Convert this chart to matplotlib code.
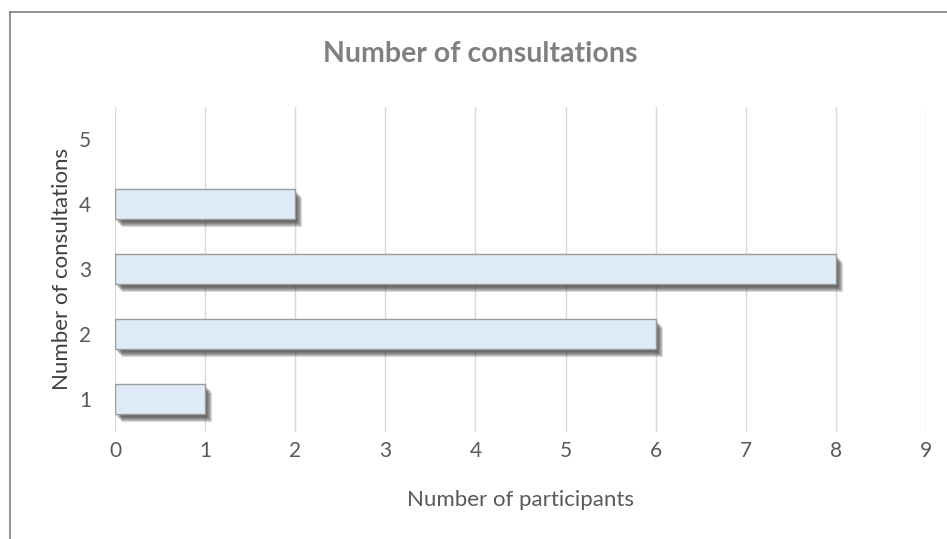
import matplotlib.pyplot as plt
import matplotlib.patheffects as pe
from matplotlib.lines import Line2D

consultations = [1, 2, 3, 4, 5]
participants = [1, 6, 8, 2, 0]
x_ticks = list(range(0, 10))

plt.rcParams['font.family'] = ['Lato', 'DejaVu Sans']

fig = plt.figure(figsize=(9.47, 5.39), dpi=100, facecolor='white')
ax = fig.add_axes([0.1214, 0.1994, 0.8564, 0.603])

# soft drop shadow under each bar
shadow = [pe.SimplePatchShadow(offset=(1.5 + i * 0.7, -2 - i * 0.8),
                               shadow_rgbFace='#303030', alpha=0.19)
          for i in range(6)]
bars = ax.barh(consultations, participants, height=0.4545,
               color='#DEEBF7', edgecolor='#9A9A9A', linewidth=1.0, zorder=3)
for b in bars:
    if b.get_width() > 0:
        b.set_path_effects(shadow + [pe.Normal()])
    else:
        b.set_visible(False)

ax.set_xlim(0, 9)
ax.set_ylim(0.5, 5.5)
ax.set_xticks(x_ticks)
ax.set_yticks(consultations)
ax.grid(axis='x', color='#D9D9D9', linewidth=1.0, zorder=0)
ax.set_axisbelow(True)
for s in ax.spines.values():
    s.set_visible(False)
ax.tick_params(length=0, labelsize=15, labelcolor='#595959')
ax.tick_params(axis='x', pad=7)
ax.tick_params(axis='y', pad=17)

ax.set_xlabel('Number of participants', fontsize=16, color='#595959')
ax.xaxis.set_label_coords(0.5, -(500 - 431.5) / 325)
ax.set_ylabel('Number of consultations', fontsize=16, color='#404040')
ax.yaxis.set_label_coords(-(115 - 62) / 811, 0.5)
ax.xaxis.label.set_va('center')
ax.yaxis.label.set_va('center')

fig.text(480 / 947, 1 - 54 / 539, 'Number of consultations', ha='center', va='center',
         fontsize=20.5, fontweight='bold', color='#808080')

# chart frame, top and left edges
fig.add_artist(Line2D([9.5 / 947, 9.5 / 947], [0, 1 - 12 / 539], color='#7F7F7F', linewidth=1.2))
fig.add_artist(Line2D([9.5 / 947, 1], [1 - 12 / 539, 1 - 12 / 539], color='#7F7F7F', linewidth=1.2))

fig.savefig('out.png', dpi=100, facecolor='white')
